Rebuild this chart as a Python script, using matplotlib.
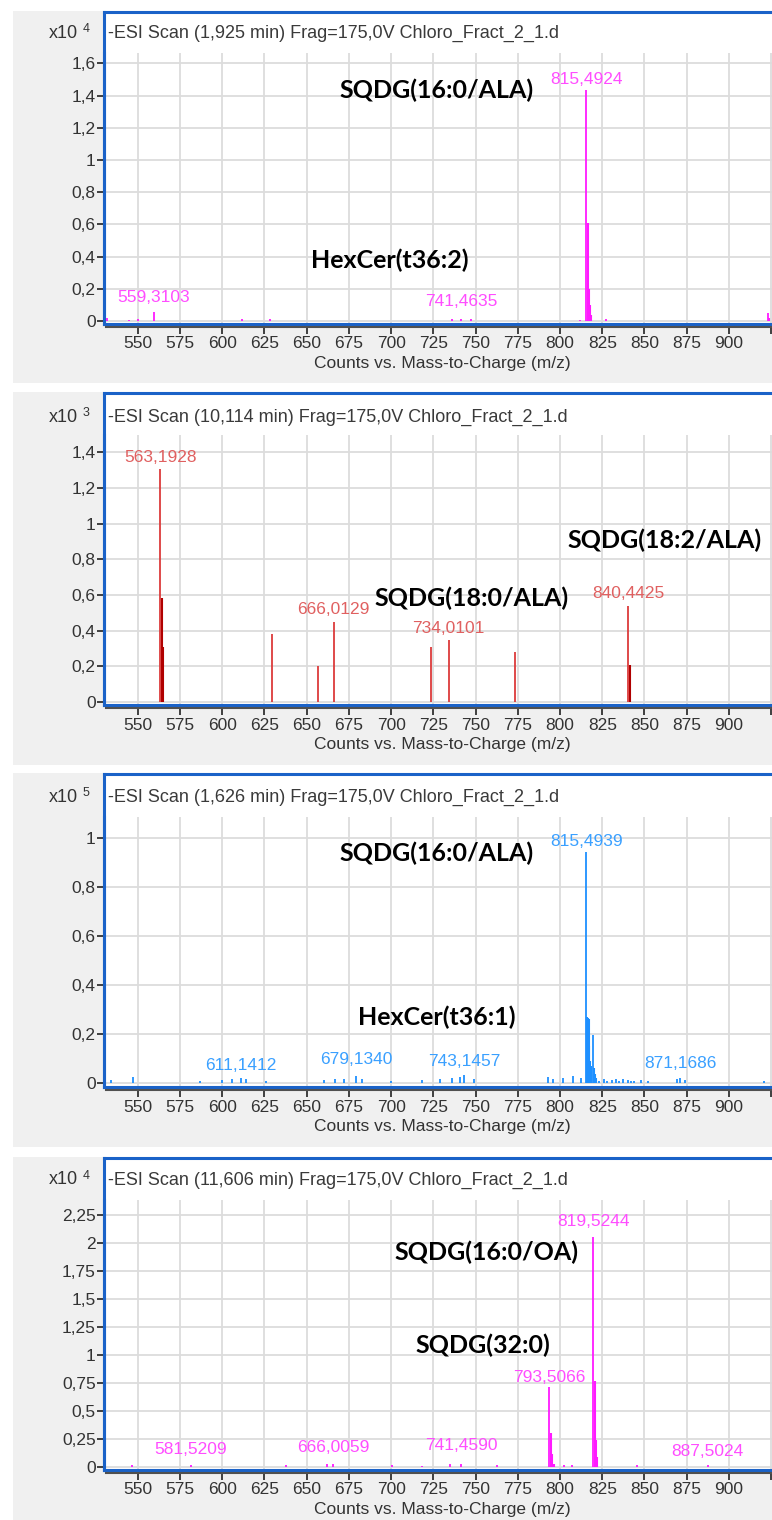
import numpy as np
import matplotlib.pyplot as plt
from matplotlib.patches import Rectangle
from matplotlib.lines import Line2D
from matplotlib.transforms import blended_transform_factory

W, H = 772, 1520

titles = [
    "-ESI Scan (1,925 min) Frag=175,0V Chloro_Fract_2_1.d",
    "-ESI Scan (10,114 min) Frag=175,0V Chloro_Fract_2_1.d",
    "-ESI Scan (1,626 min) Frag=175,0V Chloro_Fract_2_1.d",
    "-ESI Scan (11,606 min) Frag=175,0V Chloro_Fract_2_1.d",
]
exponents = [4, 3, 5, 4]
xticks = list(range(550, 926, 25))

# scan 1 (counts)
mz1 = [531.5, 545.0, 550.0, 559.31, 611.5, 628.0, 736.0, 741.46, 747.5, 812.0,
       815.49, 816.49, 817.2, 817.8, 818.5, 827.0, 923.0, 923.8]
counts1 = [200, 80, 120, 560, 150, 150, 120, 150, 100, 80,
           14350, 6100, 2000, 1000, 400, 100, 500, 200]
peaks1 = [815.4924, 559.3103, 741.4635]
names1 = ["SQDG(16:0/ALA)", "HexCer(t36:2)"]

# scan 2
mz2 = [563.19, 564.19, 565.2, 629.5, 656.5, 666.01, 723.5, 734.01, 773.5, 840.44, 841.45]
counts2 = [1305, 580, 310, 380, 200, 450, 308, 347, 280, 538, 210]
peaks2 = [563.1928, 666.0129, 734.0101, 840.4425]
names2 = ["SQDG(18:2/ALA)", "SQDG(18:0/ALA)"]

# scan 3
mz3 = [534, 547, 587, 600, 606, 611.14, 614, 626, 660, 667, 672, 679.13, 683, 700,
       718, 729, 736, 741, 743.15, 749, 793, 796, 802, 807.5, 812.5,
       815.49, 815.9, 816.4, 816.9, 817.4, 817.9, 818.4, 819.5, 820.0, 820.6, 821.5, 823.0,
       826, 828, 831, 833, 835, 837, 840, 842, 844, 848, 852, 869, 871.17, 874, 921]
counts3 = [1200, 2500, 1000, 1200, 1500, 2200, 1800, 1000, 1200, 1500, 1800, 3000, 1500, 1000,
           1200, 1500, 2000, 2500, 3200, 1500, 2500, 1800, 2200, 2800, 2000,
           94300, 27000, 26500, 26000, 15000, 9000, 7000, 19500, 6000, 3500, 2000, 1000,
           1500, 1000, 1200, 1800, 900, 1500, 1200, 800, 1000, 1200, 900, 1500, 2200, 1200, 1000]
peaks3 = [815.4939, 611.1412, 679.1340, 743.1457, 871.1686]
names3 = ["SQDG(16:0/ALA)", "HexCer(t36:1)"]

# scan 4
mz4 = [546.5, 581.52, 637.9, 662.0, 665.8, 700.5, 718.0, 735.0, 741.46, 762.6,
       793.51, 794.5, 795.2, 796.5, 802.5, 807.0, 819.52, 820.52, 821.2, 822.0, 845.5, 887.5]
counts4 = [150, 150, 200, 250, 300, 200, 80, 250, 300, 200,
           7100, 3000, 1200, 300, 150, 200, 20500, 7700, 2400, 900, 200, 200]
peaks4 = [819.5244, 793.5066, 581.5209, 666.0059, 741.4590, 887.5024]
names4 = ["SQDG(16:0/OA)", "SQDG(32:0)"]

# layout in pixels
layout = [
    dict(box=12, gray_bot=383, top=53, bot=324, zero=321, ppu=161, title=33, ticks=np.arange(0, 1.61, 0.2),
         peak_y=[79, 298, 302], name_xy=[(437, 90), (390, 260)]),
    dict(box=393, gray_bot=765, top=435, bot=705, zero=702, ppu=178.5, title=417, ticks=np.arange(0, 1.41, 0.2),
         peak_y=[458, 609, 628, 593], name_xy=[(665, 540), (472, 598)]),
    dict(box=774, gray_bot=1147, top=817, bot=1087, zero=1083, ppu=245, title=797, ticks=np.arange(0, 1.01, 0.2),
         peak_y=[842, 1066, 1060, 1062, 1063], name_xy=[(437, 853), (437, 1017)]),
    dict(box=1158, gray_bot=1520, top=1200, bot=1470, zero=1467, ppu=112, title=1180, ticks=np.arange(0, 2.26, 0.25),
         peak_y=[1222, 1377, 1450, 1447, 1446, 1452], name_xy=[(486, 1252), (483, 1345)]),
]
line_colors = ["#ff1aff", "#dc3c3c", "#1e90ff", "#ff1aff"]
iso_colors = ["#ff1aff", "#b00000", "#1e90ff", "#ff1aff"]   # isotope lines (darker in scan 2)
label_colors = ["#ff4dff", "#e06060", "#3aa0ff", "#ff4dff"]
spectra = [(mz1, counts1, peaks1, names1), (mz2, counts2, peaks2, names2),
           (mz3, counts3, peaks3, names3), (mz4, counts4, peaks4, names4)]

blue = "#1a62c8"
tick_font = "Liberation Sans"

fig = plt.figure(figsize=(W / 100, H / 100), dpi=100)
fig.patch.set_facecolor("white")


def fx(px):
    return px / W


def fy(py):
    return 1 - py / H


def fmt(v):
    s = f"{v:.2f}".rstrip("0").rstrip(".")
    return s.replace(".", ",")


left_px = 104
for i, (lay, (mz, counts, peaks, names)) in enumerate(zip(layout, spectra)):
    # grey panel + white plot box
    fig.patches.append(Rectangle((fx(13), fy(lay["gray_bot"])), fx(W - 13), (lay["gray_bot"] - lay["box"] + 1) / H,
                                 transform=fig.transFigure, facecolor="#f0f0f0", edgecolor="none", zorder=-2))
    fig.patches.append(Rectangle((fx(left_px), fy(lay["bot"])), fx(W - left_px), (lay["bot"] - lay["box"]) / H,
                                 transform=fig.transFigure, facecolor="white", edgecolor="none", zorder=-1))
    fig.lines.append(Line2D([fx(left_px), 1], [fy(lay["box"]), fy(lay["box"])], transform=fig.transFigure,
                            color=blue, lw=2.2, zorder=3))
    fig.lines.append(Line2D([fx(left_px), fx(left_px)], [fy(lay["box"]), fy(lay["bot"])], transform=fig.transFigure,
                            color=blue, lw=2.2, zorder=3))
    fig.lines.append(Line2D([fx(left_px + 2), 1], [fy(lay["bot"] + 2.5), fy(lay["bot"] + 2.5)],
                            transform=fig.transFigure, color="#505050", lw=1.5, zorder=3))

    ax = fig.add_axes([fx(left_px), fy(lay["bot"]), fx(W - left_px) + 0.01, (lay["bot"] - lay["top"]) / H])
    ax.set_zorder(1)
    ax.set_facecolor("white")
    scale = 10 ** exponents[i]
    x = np.array(mz, dtype=float)
    y = np.array(counts) / scale
    # lines sitting right after a taller neighbour are isotope peaks
    iso = np.zeros(len(x), dtype=bool)
    iso[1:] = (np.diff(x) < 1.5) & (y[1:] < y[:-1] + 1e-9)
    ax.vlines(x[~iso], 0, y[~iso], color=line_colors[i], lw=1.3, zorder=3)
    ax.vlines(x[iso], 0, y[iso], color=iso_colors[i], lw=1.5, zorder=3)
    ax.set_xlim(530, 925.5 + 0.01 * W / (W - left_px) * 395)
    ax.set_ylim(-(lay["bot"] - lay["zero"]) / lay["ppu"], (lay["zero"] - lay["top"]) / lay["ppu"])
    ax.set_xticks(xticks)
    ax.set_xticklabels([str(t) if t <= 900 else "" for t in xticks])
    ax.set_yticks(lay["ticks"])
    ax.set_yticklabels([fmt(t) for t in lay["ticks"]])
    ax.grid(True, color="#dcdcdc", lw=1.3, zorder=0)
    ax.set_axisbelow(True)
    for s in ["top", "right"]:
        ax.spines[s].set_visible(False)
    ax.spines["left"].set_color(blue)
    ax.spines["left"].set_linewidth(2.2)
    ax.spines["bottom"].set_color(blue)
    ax.spines["bottom"].set_linewidth(2.2)
    ax.tick_params(axis="y", direction="out", length=5, width=1.4, color="#404040", pad=1,
                   labelsize=12.5, labelcolor="#333333")
    ax.tick_params(axis="x", direction="out", length=7, width=1.4, color="#404040", pad=2,
                   labelsize=12.5, labelcolor="#333333")
    for lab in ax.get_xticklabels() + ax.get_yticklabels():
        lab.set_fontfamily(tick_font)
    ax.set_xlabel("Counts vs. Mass-to-Charge (m/z)", fontsize=12.5, color="#333333", family=tick_font, labelpad=3)

    # header
    fig.text(fx(108), fy(lay["title"]), titles[i], fontsize=13, color="#3a3a3a", family=tick_font, va="center")
    fig.text(fx(78), fy(lay["title"]), "x10", fontsize=13, color="#333333", family=tick_font, va="center", ha="right")
    fig.text(fx(83), fy(lay["title"] - 4), str(exponents[i]), fontsize=9, color="#333333", family=tick_font,
             va="center", ha="left")

    # peak labels
    tr = blended_transform_factory(ax.transData, fig.transFigure)
    for p, py in zip(peaks, lay["peak_y"]):
        ax.text(p, fy(py), f"{p:.4f}".replace(".", ","), transform=tr, ha="center", va="center",
                fontsize=12.5, color=label_colors[i], family=tick_font, zorder=4)

    # compound names
    for n, (px, py) in zip(names, lay["name_xy"]):
        fig.text(fx(px), fy(py), n, ha="center", va="center", fontsize=18, fontweight="bold",
                 family="Lato", color="black", zorder=5)

fig.savefig("out.png", dpi=100, facecolor="white")
